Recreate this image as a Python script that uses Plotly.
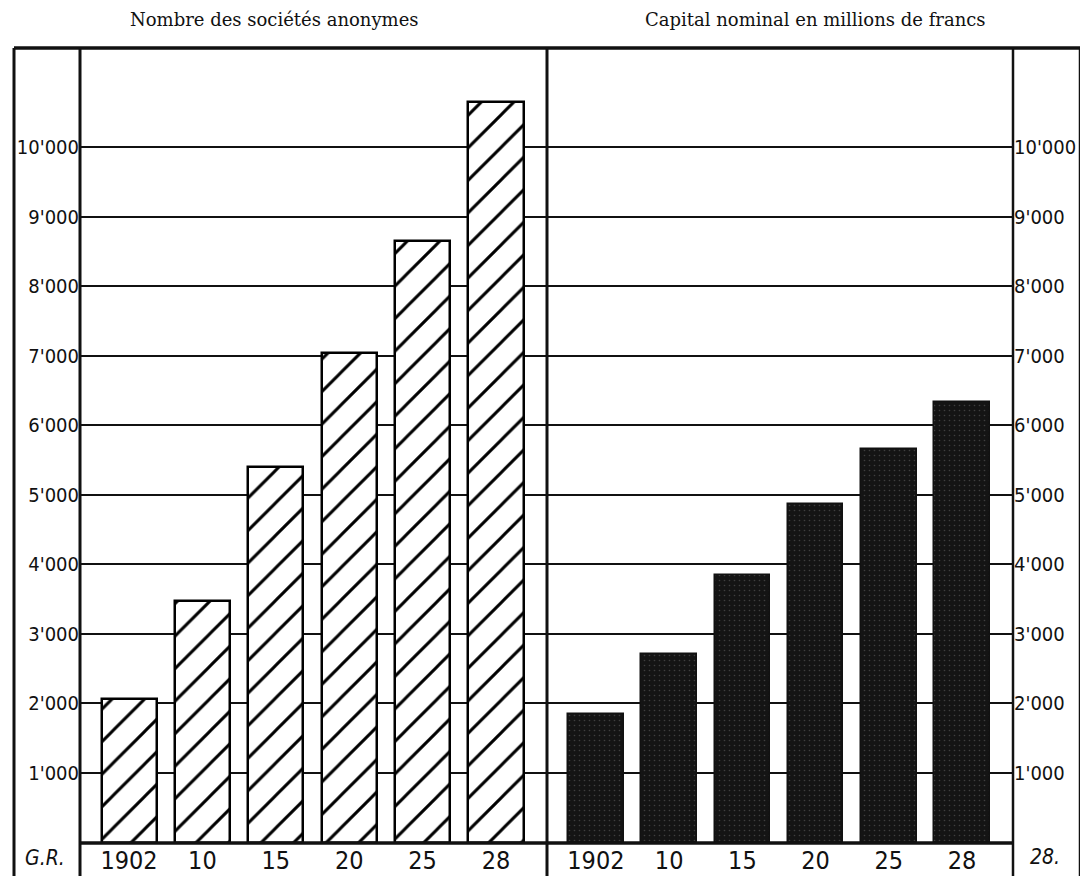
import plotly.graph_objects as go

# ---- data ----
years = ["1902", "10", "15", "20", "25", "28"]
societes = [2060, 3480, 5400, 7040, 8650, 10650]
capital = [1850, 2710, 3850, 4870, 5660, 6340]
y_ticks = [1000, 2000, 3000, 4000, 5000, 6000, 7000, 8000, 9000, 10000]
y_tick_labels = ["1'000", "2'000", "3'000", "4'000", "5'000",
                 "6'000", "7'000", "8'000", "9'000", "10'000"]
title_left = "Nombre des sociétés anonymes"
title_right = "Capital nominal en millions de francs"

W, H = 1080, 876
def px(x):
    return x / W
def py(y):
    return 1 - y / H

Y0 = 842.6
Y_TOP = 48
SCALE = 0.06956  # px per unit
y_max = (Y0 - Y_TOP) / SCALE

xpos = list(range(len(years)))
x_range = [-0.668, 5.695]

HAND = "DejaVu Sans Condensed, Liberation Sans Narrow, Roboto, sans-serif"

fig = go.Figure()
fig.add_trace(go.Bar(
    x=xpos, y=societes, width=0.75, xaxis="x", yaxis="y",
    marker=dict(color="white", line=dict(color="black", width=2.5),
                pattern=dict(shape="/", fgcolor="#000000", fgopacity=1,
                             bgcolor="white", size=23, solidity=0.13)),
    hoverinfo="skip", showlegend=False))
fig.add_trace(go.Bar(
    x=xpos, y=capital, width=0.76, xaxis="x2", yaxis="y2",
    marker=dict(color="#141414", line=dict(color="#111111", width=1.5),
                pattern=dict(shape=".", fgcolor="#6a6a6a", bgcolor="#141414",
                             size=5, solidity=0.08)),
    hoverinfo="skip", showlegend=False))

ydom = [py(Y0), py(Y_TOP)]
xfont = dict(family=HAND, size=25, color="#111")
yfont = dict(family=HAND, size=20, color="#111")

fig.update_layout(
    width=W, height=H,
    margin=dict(l=0, r=0, t=0, b=0),
    paper_bgcolor="white", plot_bgcolor="white",
    bargap=0,
    xaxis=dict(domain=[px(80), px(547)], range=x_range, anchor="y",
               tickvals=xpos, ticktext=years, tickfont=xfont,
               showgrid=False, zeroline=False, showline=False, ticks=""),
    xaxis2=dict(domain=[px(547), px(1013)], range=x_range, anchor="y2",
                tickvals=xpos, ticktext=years, tickfont=xfont,
                showgrid=False, zeroline=False, showline=False, ticks=""),
    yaxis=dict(domain=ydom, range=[0, y_max], anchor="x",
               tickvals=y_ticks, ticktext=y_tick_labels, tickfont=yfont,
               showgrid=True, gridcolor="#111", gridwidth=2,
               zeroline=False, showline=False, ticks=""),
    yaxis2=dict(domain=ydom, range=[0, y_max], anchor="x2", side="right",
                tickvals=y_ticks, ticktext=y_tick_labels, tickfont=yfont,
                showgrid=True, gridcolor="#111", gridwidth=2,
                zeroline=False, showline=False, ticks=""),
)

line_col = "#111"
shapes = []
def vline(x, y1, y2, w=3):
    shapes.append(dict(type="line", xref="paper", yref="paper",
                       x0=px(x), x1=px(x), y0=py(y1), y1=py(y2),
                       line=dict(color=line_col, width=w)))
def hline(y, x1, x2, w=3):
    shapes.append(dict(type="line", xref="paper", yref="paper",
                       x0=px(x1), x1=px(x2), y0=py(y), y1=py(y),
                       line=dict(color=line_col, width=w)))

vline(14, 48, 876, 3)
vline(80, 48, 876, 3)
vline(547, 48, 876, 3)
vline(1013, 48, 876, 2.5)
vline(1079.5, 48, 876, 1.5)
hline(48, 14, 1080, 3.5)
hline(843, 80, 1013, 3.5)
fig.update_layout(shapes=shapes)

serif = dict(family="DejaVu Serif, Liberation Serif, serif", size=18, color="#111")
fig.add_annotation(xref="paper", yref="paper", x=px(274), y=py(20),
                   text=title_left, showarrow=False, font=serif,
                   xanchor="center", yanchor="middle")
fig.add_annotation(xref="paper", yref="paper", x=px(815), y=py(20),
                   text=title_right, showarrow=False, font=serif,
                   xanchor="center", yanchor="middle")
fig.add_annotation(xref="paper", yref="paper", x=px(45), y=py(858),
                   text="<i>G.R.</i>", showarrow=False,
                   font=dict(family=HAND, size=21, color="#111"),
                   xanchor="center", yanchor="middle")
fig.add_annotation(xref="paper", yref="paper", x=px(1045), y=py(857),
                   text="<i>28.</i>", showarrow=False,
                   font=dict(family=HAND, size=21, color="#111"),
                   xanchor="center", yanchor="middle")

fig.write_html(
    "out.html",
    config={"displayModeBar": False},
    post_script="document.body.style.margin='0';document.body.style.overflow='hidden';",
)
